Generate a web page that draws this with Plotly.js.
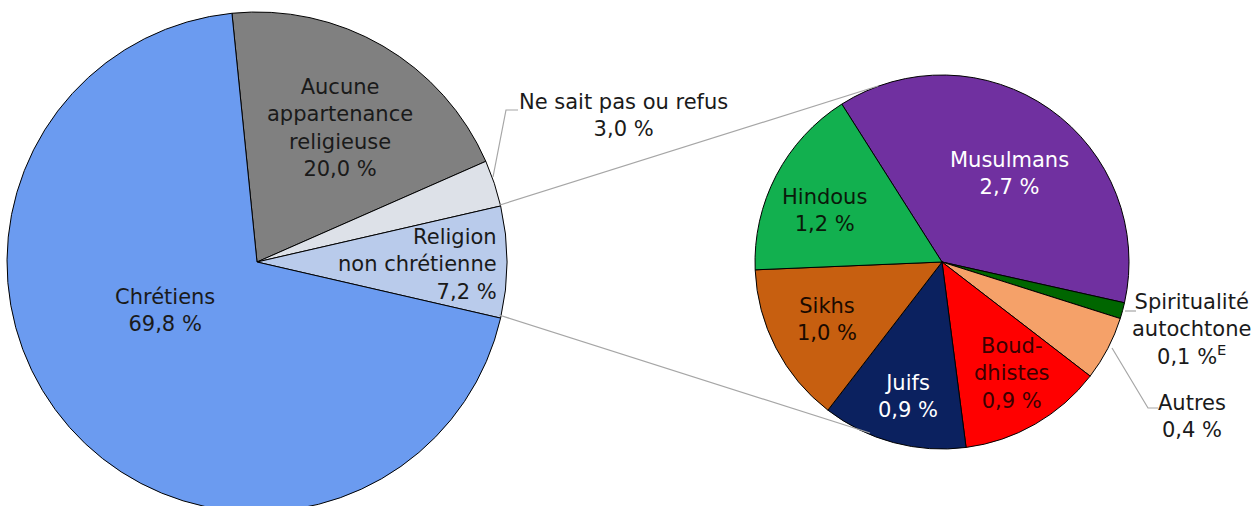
<!DOCTYPE html>
<html>
<head>
<meta charset="utf-8">
<script src="https://cdn.plot.ly/plotly-3.0.1.min.js"></script>
<style>
html,body{margin:0;padding:0;overflow:hidden;background:#fff;}
#chart{width:1259px;height:530px;}
</style>
</head>
<body>
<div id="chart"></div>
<script>
// Main pie
const mainLabels = ["Aucune appartenance religieuse", "Ne sait pas ou refus", "Religion non chrétienne", "Chrétiens"];
const mainValues = [20.0, 3.0, 7.2, 69.8];
const mainColors = ["#808080", "#dde1e8", "#b9cbeb", "#6b9bf0"];

// Secondary pie (detail of "Religion non chrétienne")
const subLabels = ["Musulmans", "Spiritualité autochtone", "Autres", "Bouddhistes", "Juifs", "Sikhs", "Hindous"];
const subValues = [2.7, 0.1, 0.4, 0.9, 0.9, 1.0, 1.2];
const subColors = ["#7030a0", "#006600", "#f5a169", "#ff0000", "#0b215f", "#c75f10", "#12b04f"];

const W = 1259, H = 530;
const px = x => x / W;
const py = y => (H - y) / H;

function pieDomain(cx, cy, r) {
  return {x: [px(cx - r), px(cx + r)], y: [py(cy + r), py(cy - r)]};
}

const traces = [
  {
    type: "pie", labels: mainLabels, values: mainValues, sort: false,
    direction: "clockwise", rotation: -5.75,
    marker: {colors: mainColors, line: {color: "#000", width: 1}},
    textinfo: "none", hoverinfo: "label+value", showlegend: false,
    domain: pieDomain(257, 262, 250)
  },
  {
    type: "pie", labels: subLabels, values: subValues, sort: false,
    direction: "clockwise", rotation: -32.4,
    marker: {colors: subColors, line: {color: "#000", width: 1}},
    textinfo: "none", hoverinfo: "label+value", showlegend: false,
    domain: pieDomain(942, 262, 187)
  }
];

const fontFam = "DejaVu Sans, Verdana, sans-serif";
function ann(text, x, y, color, opts) {
  return Object.assign({
    text: text, x: px(x), y: py(y), xref: "paper", yref: "paper",
    showarrow: false, xanchor: "center", yanchor: "middle", align: "center",
    font: {family: fontFam, size: 21, color: color}
  }, opts || {});
}

const annotations = [
  ann("Aucune<br>appartenance<br>religieuse<br>20,0 %", 340, 128, "#1a1a1a"),
  ann("Chrétiens<br>69,8 %", 165, 310, "#1a1a1a"),
  ann("Religion<br>non chrétienne<br>7,2 %", 499, 264, "#1a1a1a", {xanchor: "right", align: "right"}),
  ann("Ne sait pas ou refus<br>3,0 %", 623, 116, "#1a1a1a"),
  ann("Musulmans<br>2,7 %", 1009, 173, "#ffffff"),
  ann("Hindous<br>1,2 %", 824, 210, "#0a1a0a"),
  ann("Sikhs<br>1,0 %", 827, 319, "#1a0a00"),
  ann("Juifs<br>0,9 %", 908, 397, "#ffffff"),
  ann("Boud-<br>dhistes<br>0,9 %", 1012, 373, "#3a0000"),
  ann("Spiritualité<br>autochtone<br>0,1 %<sup>E</sup>", 1191, 329, "#1a1a1a"),
  ann("Autres<br>0,4 %", 1192, 416, "#1a1a1a")
];

function path(points) {
  return "M " + points.map(p => px(p[0]) + "," + py(p[1])).join(" L ");
}
const lineStyle = {color: "#a6a6a6", width: 1.2};
const shapes = [
  {type: "path", xref: "paper", yref: "paper", path: path([[493, 177], [506, 110], [518, 110]]), line: lineStyle},
  {type: "path", xref: "paper", yref: "paper", path: path([[500, 205], [878, 86]]), line: lineStyle},
  {type: "path", xref: "paper", yref: "paper", path: path([[499, 315], [870, 433]]), line: lineStyle},
  {type: "path", xref: "paper", yref: "paper", path: path([[1125, 311], [1136, 311]]), line: lineStyle},
  {type: "path", xref: "paper", yref: "paper", path: path([[1112, 348], [1148, 408], [1158, 408]]), line: lineStyle}
];

const layout = {
  width: W, height: H,
  margin: {l: 0, r: 0, t: 0, b: 0},
  paper_bgcolor: "#ffffff",
  showlegend: false,
  annotations: annotations,
  shapes: shapes
};

Plotly.newPlot("chart", traces, layout, {displayModeBar: false, staticPlot: true});
</script>
</body>
</html>
